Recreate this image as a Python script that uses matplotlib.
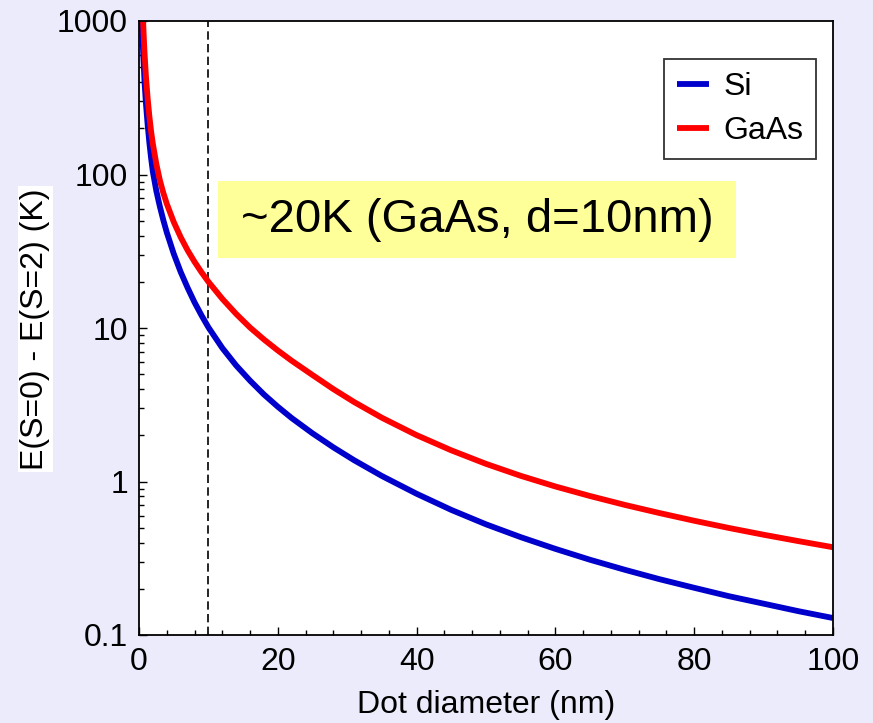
import matplotlib
matplotlib.use("Agg")
import matplotlib.pyplot as plt
from matplotlib.ticker import FixedLocator, FixedFormatter, LogLocator, NullFormatter, MultipleLocator
from matplotlib.patches import Rectangle

plt.rcParams['font.family'] = ['Liberation Sans', 'DejaVu Sans']

# Dot diameter (nm) and E(S=0) - E(S=2) (K) for Si dots
diameter_si = [0.42, 0.5, 0.6, 0.8, 1.0, 1.25, 1.5, 1.75, 2, 2.5, 3, 3.5, 4, 5, 6, 7,
               8, 9, 10, 12, 14, 16, 18, 20, 22, 25, 28, 31, 35, 40, 45, 50, 55,
               60, 65, 70, 75, 80, 85, 90, 95, 100]
gap_si = [1000, 800, 620, 400, 290, 210, 160, 127, 104, 78, 62, 50.5, 42, 30.5,
          23.2, 18.3, 14.7, 12.1, 10.1, 7.41, 5.70, 4.54, 3.69, 3.07, 2.59, 2.06,
          1.67, 1.376, 1.086, 0.832, 0.653, 0.526, 0.434, 0.364, 0.309, 0.266,
          0.231, 0.203, 0.179, 0.160, 0.143, 0.129]

# Dot diameter (nm) and E(S=0) - E(S=2) (K) for GaAs dots
diameter_gaas = [0.59, 0.7, 0.8, 1.0, 1.25, 1.5, 1.75, 2, 2.5, 3, 3.5, 4, 5, 6, 7,
                 8, 9, 10, 12, 14, 16, 18, 20, 22, 25, 28, 31, 35, 40, 45, 50, 55,
                 60, 65, 70, 75, 80, 85, 90, 95, 100]
gap_gaas = [1000, 761, 616, 436, 312, 238, 190, 158, 117, 92, 76, 64.5, 49.1,
            39.1, 32.1, 27.0, 23.1, 20.0, 15.5, 12.35, 10.07, 8.42, 7.14, 6.12,
            4.94, 4.00, 3.293, 2.602, 2.005, 1.596, 1.303, 1.089, 0.928, 0.804,
            0.704, 0.623, 0.555, 0.498, 0.450, 0.409, 0.373]

series_names = ['Si', 'GaAs']
marked_diameter = 10

x_ticks = [0, 20, 40, 60, 80, 100]
x_tick_labels = ['0', '20', '40', '60', '80', '100']
y_ticks = [0.1, 1, 10, 100, 1000]
y_tick_labels = ['0.1', '1', '10', '100', '1000']

annotation = '~20K (GaAs, d=10nm)'
x_title = 'Dot diameter (nm)'
y_title = 'E(S=0) - E(S=2) (K)'

W, H = 873, 723
fig = plt.figure(figsize=(W / 100, H / 100), dpi=100)
fig.patch.set_facecolor('#EBEBFB')

L, R, T, B = 139, 833, 21, 635
ax = fig.add_axes([L / W, 1 - B / H, (R - L) / W, (B - T) / H])
ax.set_facecolor('white')

ax.plot(diameter_si, gap_si, color='#0000CC', lw=4.2, label=series_names[0],
        solid_capstyle='butt', solid_joinstyle='round')
ax.plot(diameter_gaas, gap_gaas, color='#FF0000', lw=4.2, label=series_names[1],
        solid_capstyle='butt', solid_joinstyle='round')
ax.axvline(marked_diameter, color='black', lw=1.2, dashes=(5, 2.6), zorder=1)

ax.set_yscale('log')
ax.set_xlim(0, 100)
ax.set_ylim(0.1, 1000)

ax.xaxis.set_major_locator(FixedLocator(x_ticks))
ax.xaxis.set_major_formatter(FixedFormatter(x_tick_labels))
ax.xaxis.set_minor_locator(MultipleLocator(4))
ax.yaxis.set_major_locator(FixedLocator(y_ticks))
ax.yaxis.set_major_formatter(FixedFormatter(y_tick_labels))
ax.yaxis.set_minor_locator(LogLocator(base=10, subs=range(2, 10), numticks=20))
ax.yaxis.set_minor_formatter(NullFormatter())

ax.tick_params(which='both', direction='in', top=False, right=False,
               labelsize=23, colors='black', width=1.0)
ax.tick_params(which='major', length=6)
ax.tick_params(which='minor', length=3.5)
ax.tick_params(axis='y', which='major', pad=8)
ax.tick_params(axis='x', which='major', pad=9)

for side, sp in ax.spines.items():
    sp.set_color('black')
    sp.set_linewidth(1.3)

ax.set_xlabel(x_title, fontsize=23, va='center')
ax.xaxis.set_label_coords(486 / W, 1 - 705 / H, transform=fig.transFigure)
ax.set_ylabel(y_title, fontsize=23, va='center',
              bbox=dict(facecolor='white', edgecolor='none', pad=1.5))
ax.yaxis.set_label_coords(35.5 / W, 1 - 329 / H, transform=fig.transFigure)

# highlighted note
fig.patches.append(Rectangle((218 / W, 1 - 258 / H), 518 / W, 77 / H,
                             transform=fig.transFigure, facecolor='#FFFF99',
                             edgecolor='none', zorder=3))
fig.text(477 / W, 1 - 220 / H, annotation, fontsize=34, ha='center', va='center',
         zorder=4)

leg = ax.legend(loc='upper right', bbox_to_anchor=(816 / W, 1 - 59 / H),
                bbox_transform=fig.transFigure, borderaxespad=0, fontsize=23,
                handlelength=1.0, handletextpad=0.45, labelspacing=0.45,
                borderpad=0.4, fancybox=False, framealpha=1)
leg.get_frame().set_edgecolor('#333333')
leg.get_frame().set_linewidth(1.3)
for line in leg.get_lines():
    line.set_linewidth(4.2)

fig.savefig('out.png', dpi=100, facecolor=fig.get_facecolor())
